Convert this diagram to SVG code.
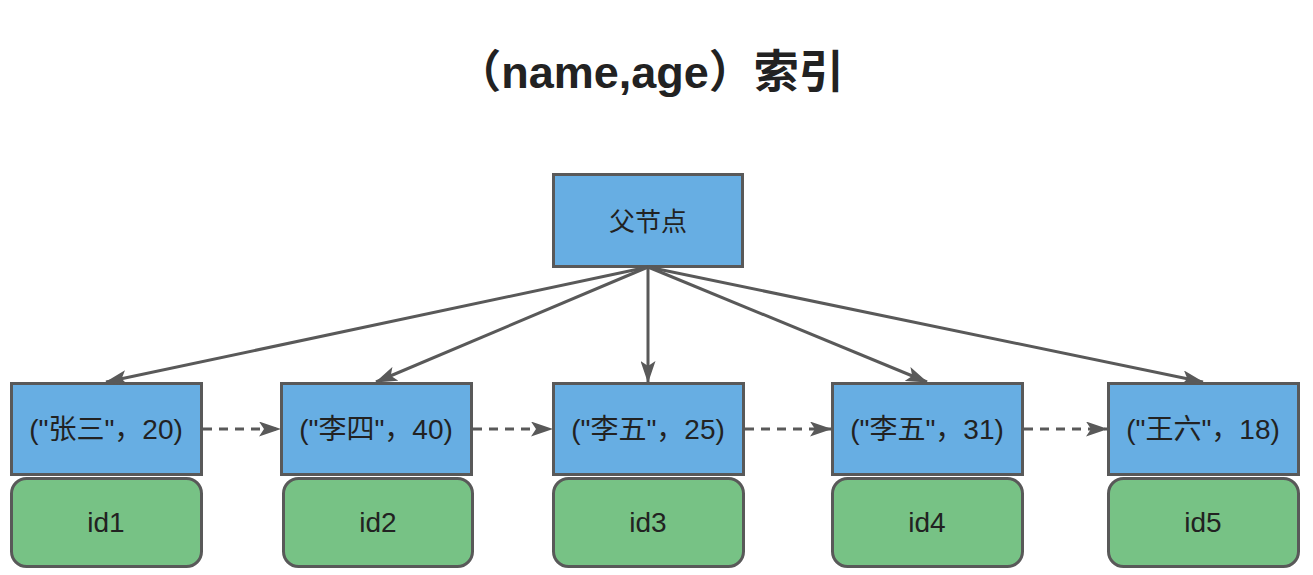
<svg xmlns="http://www.w3.org/2000/svg" width="1313" height="575" viewBox="0 0 1313 575">
<defs>
<marker id="ah" viewBox="0 0 22 15" refX="21" refY="7.5" markerWidth="22" markerHeight="15" markerUnits="userSpaceOnUse" orient="auto">
<path d="M0,0 L22,7.5 L0,15 L5,7.5 Z" fill="#595959"/>
</marker>
<style>
.blue{fill:#67aee3;stroke:#595959;stroke-width:3}
.green{fill:#77c285;stroke:#595959;stroke-width:3}
.t{font-family:"Noto Sans CJK SC","Liberation Sans",sans-serif;font-size:26px;fill:#222;text-anchor:middle;dominant-baseline:central}
.tl{font-family:"Liberation Sans","Noto Sans CJK SC",sans-serif;font-size:28px;fill:#222;text-anchor:middle;dominant-baseline:central}
.edge{stroke:#595959;stroke-width:3;fill:none;marker-end:url(#ah)}
.dash{stroke-dasharray:9 7}
</style>
</defs>
<rect width="1313" height="575" fill="#fff"/>
<text x="650" y="72" font-family="'Liberation Sans','Noto Sans CJK SC',sans-serif" font-weight="bold" font-size="45" fill="#222" text-anchor="middle" dominant-baseline="central">（name,age）索引</text>
<g id="parent"><rect class="blue" x="553.5" y="174.5" width="189" height="92"/><text class="t" x="648" y="219">父节点</text></g>
<g id="n1"><rect class="blue" x="11.5" y="383.5" width="190" height="91"/><text class="tl" x="106" y="429">("张三"，20)</text></g>
<g id="id1"><rect class="green" x="11.5" y="478.5" width="190" height="88" rx="15"/><text class="tl" x="106" y="522">id1</text></g>
<g id="n2"><rect class="blue" x="281.5" y="383.5" width="190" height="91"/><text class="tl" x="376" y="429">("李四"，40)</text></g>
<g id="id2"><rect class="green" x="283.5" y="478.5" width="189" height="88" rx="15"/><text class="tl" x="378" y="522">id2</text></g>
<g id="n3"><rect class="blue" x="553.5" y="383.5" width="190" height="91"/><text class="tl" x="648" y="429">("李五"，25)</text></g>
<g id="id3"><rect class="green" x="553.5" y="478.5" width="190" height="88" rx="15"/><text class="tl" x="648" y="522">id3</text></g>
<g id="n4"><rect class="blue" x="832.5" y="383.5" width="190" height="91"/><text class="tl" x="927" y="429">("李五"，31)</text></g>
<g id="id4"><rect class="green" x="832.5" y="478.5" width="190" height="88" rx="15"/><text class="tl" x="927" y="522">id4</text></g>
<g id="n5"><rect class="blue" x="1108.5" y="383.5" width="190" height="91"/><text class="tl" x="1203" y="429">("王六"，18)</text></g>
<g id="id5"><rect class="green" x="1108.5" y="478.5" width="190" height="88" rx="15"/><text class="tl" x="1203" y="522">id5</text></g>
<g id="connectors">
<line class="edge" x1="648" y1="267" x2="106" y2="382"/>
<line class="edge" x1="648" y1="267" x2="376" y2="382"/>
<line class="edge" x1="648" y1="267" x2="648" y2="382"/>
<line class="edge" x1="648" y1="267" x2="927" y2="382"/>
<line class="edge" x1="648" y1="267" x2="1203" y2="382"/>
<line class="edge dash" x1="203" y1="429" x2="280" y2="429"/>
<line class="edge dash" x1="473" y1="429" x2="552" y2="429"/>
<line class="edge dash" x1="745" y1="429" x2="831" y2="429"/>
<line class="edge dash" x1="1024" y1="429" x2="1107" y2="429"/>
</g>
</svg>
